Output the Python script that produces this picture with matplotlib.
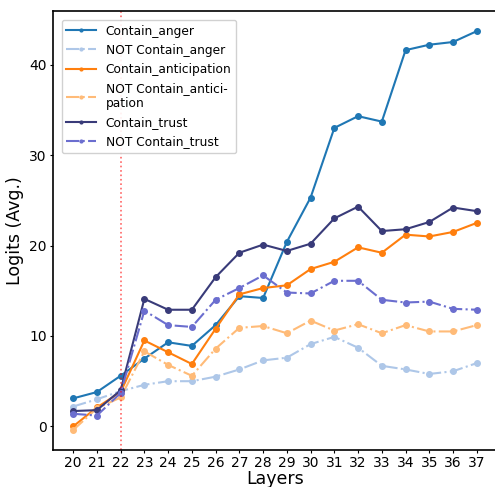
import matplotlib
matplotlib.use("Agg")
import matplotlib.pyplot as plt

layers = list(range(20, 38))

contain_anger = [3.1, 3.8, 5.6, 7.5, 9.3, 8.9, 11.2, 14.4, 14.2, 20.4, 25.3, 33.0, 34.3, 33.7, 41.6, 42.2, 42.5, 43.7]
not_contain_anger = [2.2, 3.0, 3.9, 4.6, 5.0, 5.0, 5.5, 6.3, 7.3, 7.6, 9.1, 9.9, 8.7, 6.7, 6.3, 5.8, 6.1, 7.0]
contain_anticipation = [0.0, 2.1, 3.8, 9.5, 8.2, 6.9, 10.8, 14.6, 15.3, 15.6, 17.4, 18.2, 19.8, 19.2, 21.2, 21.0, 21.5, 22.5]
not_contain_anticipation = [-0.4, 2.0, 3.2, 8.3, 6.8, 5.6, 8.6, 10.9, 11.1, 10.3, 11.7, 10.6, 11.3, 10.3, 11.2, 10.5, 10.5, 11.2]
contain_trust = [1.7, 1.8, 4.0, 14.1, 12.9, 12.9, 16.5, 19.2, 20.1, 19.4, 20.2, 23.0, 24.3, 21.6, 21.8, 22.6, 24.2, 23.8]
not_contain_trust = [1.4, 1.2, 3.7, 12.8, 11.2, 11.0, 14.0, 15.3, 16.7, 14.8, 14.7, 16.1, 16.1, 14.0, 13.7, 13.8, 13.0, 12.9]

series = [
    ("Contain_anger", contain_anger, "#1f77b4", "-"),
    ("NOT Contain_anger", not_contain_anger, "#aec7e8", "-."),
    ("Contain_anticipation", contain_anticipation, "#ff7f0e", "-"),
    ("NOT Contain_antici-\npation", not_contain_anticipation, "#ffbb78", "-."),
    ("Contain_trust", contain_trust, "#393b79", "-"),
    ("NOT Contain_trust", not_contain_trust, "#6b6ecf", "-."),
]

fig = plt.figure(figsize=(4.95, 4.87), dpi=100)
ax = fig.add_axes([0.107, 0.076, 0.897, 0.901])

for label, vals, color, ls in series:
    ax.plot(layers, vals, ls, color=color, marker="o", markersize=4, linewidth=1.5, label=label)

ax.axvline(22, color="red", linestyle=":", linewidth=1.2, alpha=0.6)

ax.set_xticks(layers)
ax.set_xticklabels([str(l) for l in layers])
ax.set_yticks([0, 10, 20, 30, 40])
ax.tick_params(axis="both", labelsize=10, length=2.5, pad=2)
ax.set_xlabel("Layers", fontsize=12.5, labelpad=0)
ax.set_ylabel("Logits (Avg.)", fontsize=12.5, labelpad=4)
for s in ax.spines.values():
    s.set_linewidth(1.2)

ax.legend(loc="upper left", fontsize=8.8, markerscale=0.5, handlelength=2.4,
          borderaxespad=0.7, framealpha=0.9)

fig.savefig("out.png", dpi=100)
